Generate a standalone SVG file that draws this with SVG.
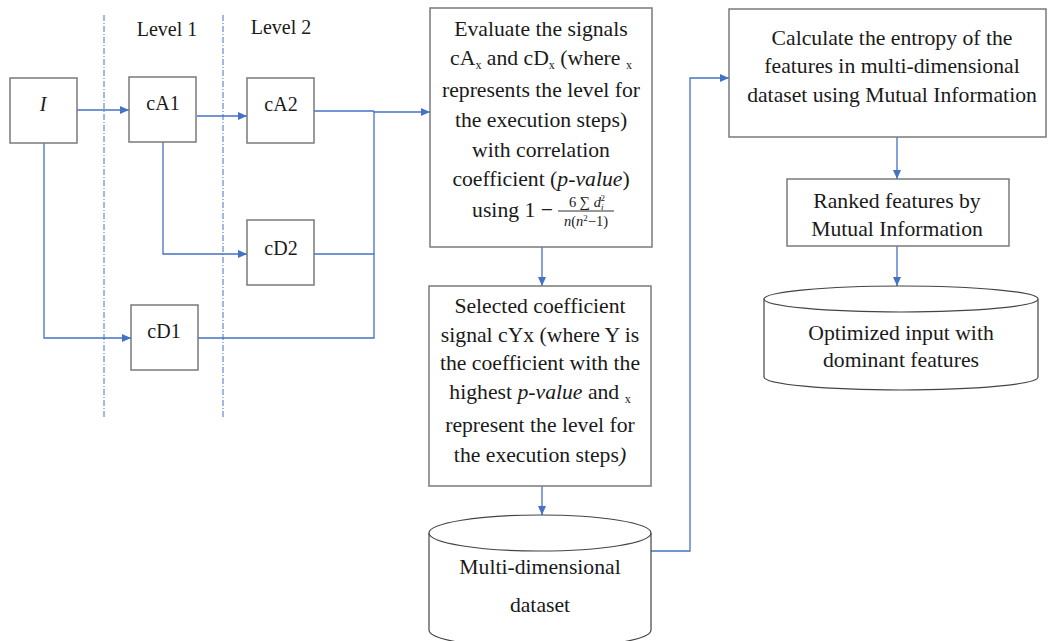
<svg xmlns="http://www.w3.org/2000/svg" width="1048" height="641" viewBox="0 0 1048 641">
<style>
.box{fill:#fff;stroke:#7a7a7a;stroke-width:1.5}
.cyl{fill:#fff;stroke:#444;stroke-width:1.2}
.con{fill:none;stroke:#4472C4;stroke-width:1.3}
.guide{fill:none;stroke:#4472C4;stroke-width:1;stroke-dasharray:6 2 1 2}
text{font-family:"Liberation Serif","Times New Roman",serif;font-size:21.7px;fill:#1a1a1a;text-anchor:middle}
.lbl{font-size:20px}
.sub{font-size:12px}
.math{font-size:14.5px}
</style>
<defs>
<marker id="arr" markerUnits="userSpaceOnUse" markerWidth="9" markerHeight="8" refX="9" refY="4" orient="auto">
<path d="M0,0 L9,4 L0,8 z" fill="#4472C4"/>
</marker>
</defs>
<g id="guides">
<line class="guide" x1="104" y1="15" x2="104" y2="418"/>
<line class="guide" x1="223" y1="15" x2="223" y2="418"/>
<text class="lbl" x="167" y="36">Level 1</text>
<text class="lbl" x="281" y="34">Level 2</text>
</g>
<g id="connectors">
<path class="con" d="M77,110 H129" marker-end="url(#arr)"/>
<path class="con" d="M197,116 H247" marker-end="url(#arr)"/>
<path class="con" d="M163,142 V254 H247" marker-end="url(#arr)"/>
<path class="con" d="M44,143 V338 H131" marker-end="url(#arr)"/>
<path class="con" d="M314,111 H374"/>
<path class="con" d="M314,254 H374"/>
<path class="con" d="M198,338 H374 V111"/>
<path class="con" d="M374,112 H430" marker-end="url(#arr)"/>
<path class="con" d="M542,247 V286" marker-end="url(#arr)"/>
<path class="con" d="M542,486 V515" marker-end="url(#arr)"/>
<path class="con" d="M651,551 H690 V78 H729" marker-end="url(#arr)"/>
<path class="con" d="M897,137 V179" marker-end="url(#arr)"/>
<path class="con" d="M897,246 V286" marker-end="url(#arr)"/>
</g>
<g id="node-I">
<rect class="box" x="10" y="78" width="67" height="65"/>
<text class="lbl" x="43" y="111" font-style="italic">I</text>
</g>
<g id="node-cA1">
<rect class="box" x="129" y="77" width="67" height="65"/>
<text class="lbl" x="163" y="110">cA1</text>
</g>
<g id="node-cA2">
<rect class="box" x="247" y="78" width="67" height="65"/>
<text class="lbl" x="281" y="111">cA2</text>
</g>
<g id="node-cD2">
<rect class="box" x="247" y="220" width="67" height="65"/>
<text class="lbl" x="281" y="255">cD2</text>
</g>
<g id="node-cD1">
<rect class="box" x="131" y="305" width="67" height="65"/>
<text class="lbl" x="164" y="338">cD1</text>
</g>
<g id="node-evaluate">
<rect class="box" x="430" y="8" width="222" height="239"/>
<text x="541" y="36">Evaluate the signals</text>
<text x="541" y="65">cA<tspan class="sub" dy="4">x</tspan><tspan dy="-4"> and cD</tspan><tspan class="sub" dy="4">x</tspan><tspan dy="-4"> (where </tspan><tspan class="sub" dy="4">x</tspan></text>
<text x="541" y="97">represents the level for</text>
<text x="541" y="127">the execution steps)</text>
<text x="541" y="157">with correlation</text>
<text x="541" y="186">coefficient (<tspan font-style="italic">p-value</tspan>)</text>
<text x="553" y="217" style="text-anchor:end">using 1 −</text>
<line x1="558" y1="211" x2="614" y2="211" stroke="#1a1a1a" stroke-width="0.9"/>
<text class="math" x="587" y="207">6 ∑ <tspan font-style="italic">d</tspan><tspan font-size="9" font-style="italic" dy="3">i</tspan><tspan font-size="9" dx="-3" dy="-9">2</tspan></text>
<text class="math" x="586" y="226"><tspan font-style="italic">n</tspan>(<tspan font-style="italic">n</tspan><tspan font-size="9" dy="-5">2</tspan><tspan dy="5">−1)</tspan></text>
</g>
<g id="node-selected">
<rect class="box" x="429" y="286" width="222" height="200"/>
<text x="540" y="313">Selected coefficient</text>
<text x="540" y="342">signal cYx (where Y is</text>
<text x="540" y="370">the coefficient with the</text>
<text x="540" y="399">highest <tspan font-style="italic">p-value</tspan> and <tspan class="sub" dy="4">x</tspan></text>
<text x="540" y="432">represent the level for</text>
<text x="540" y="462">the execution steps<tspan font-style="italic">)</tspan></text>
</g>
<g id="node-dataset">
<path class="cyl" d="M429,533 V630 A111,18 0 0 0 651,630 V533"/>
<ellipse class="cyl" cx="540" cy="533" rx="111" ry="18"/>
<text x="540" y="574">Multi-dimensional</text>
<text x="540" y="612">dataset</text>
</g>
<g id="node-calculate">
<rect class="box" x="729" y="9" width="317" height="128"/>
<text x="892" y="45">Calculate the entropy of the</text>
<text x="892" y="73">features in multi-dimensional</text>
<text x="892" y="102">dataset using Mutual Information</text>
</g>
<g id="node-ranked">
<rect class="box" x="787" y="179" width="222" height="67"/>
<text x="897" y="208">Ranked features by</text>
<text x="897" y="236">Mutual Information</text>
</g>
<g id="node-optimized">
<path class="cyl" d="M764,299 V377 A137,13 0 0 0 1038,377 V299"/>
<ellipse class="cyl" cx="901" cy="299" rx="137" ry="13"/>
<text x="901" y="340">Optimized input with</text>
<text x="901" y="367">dominant features</text>
</g>
</svg>
